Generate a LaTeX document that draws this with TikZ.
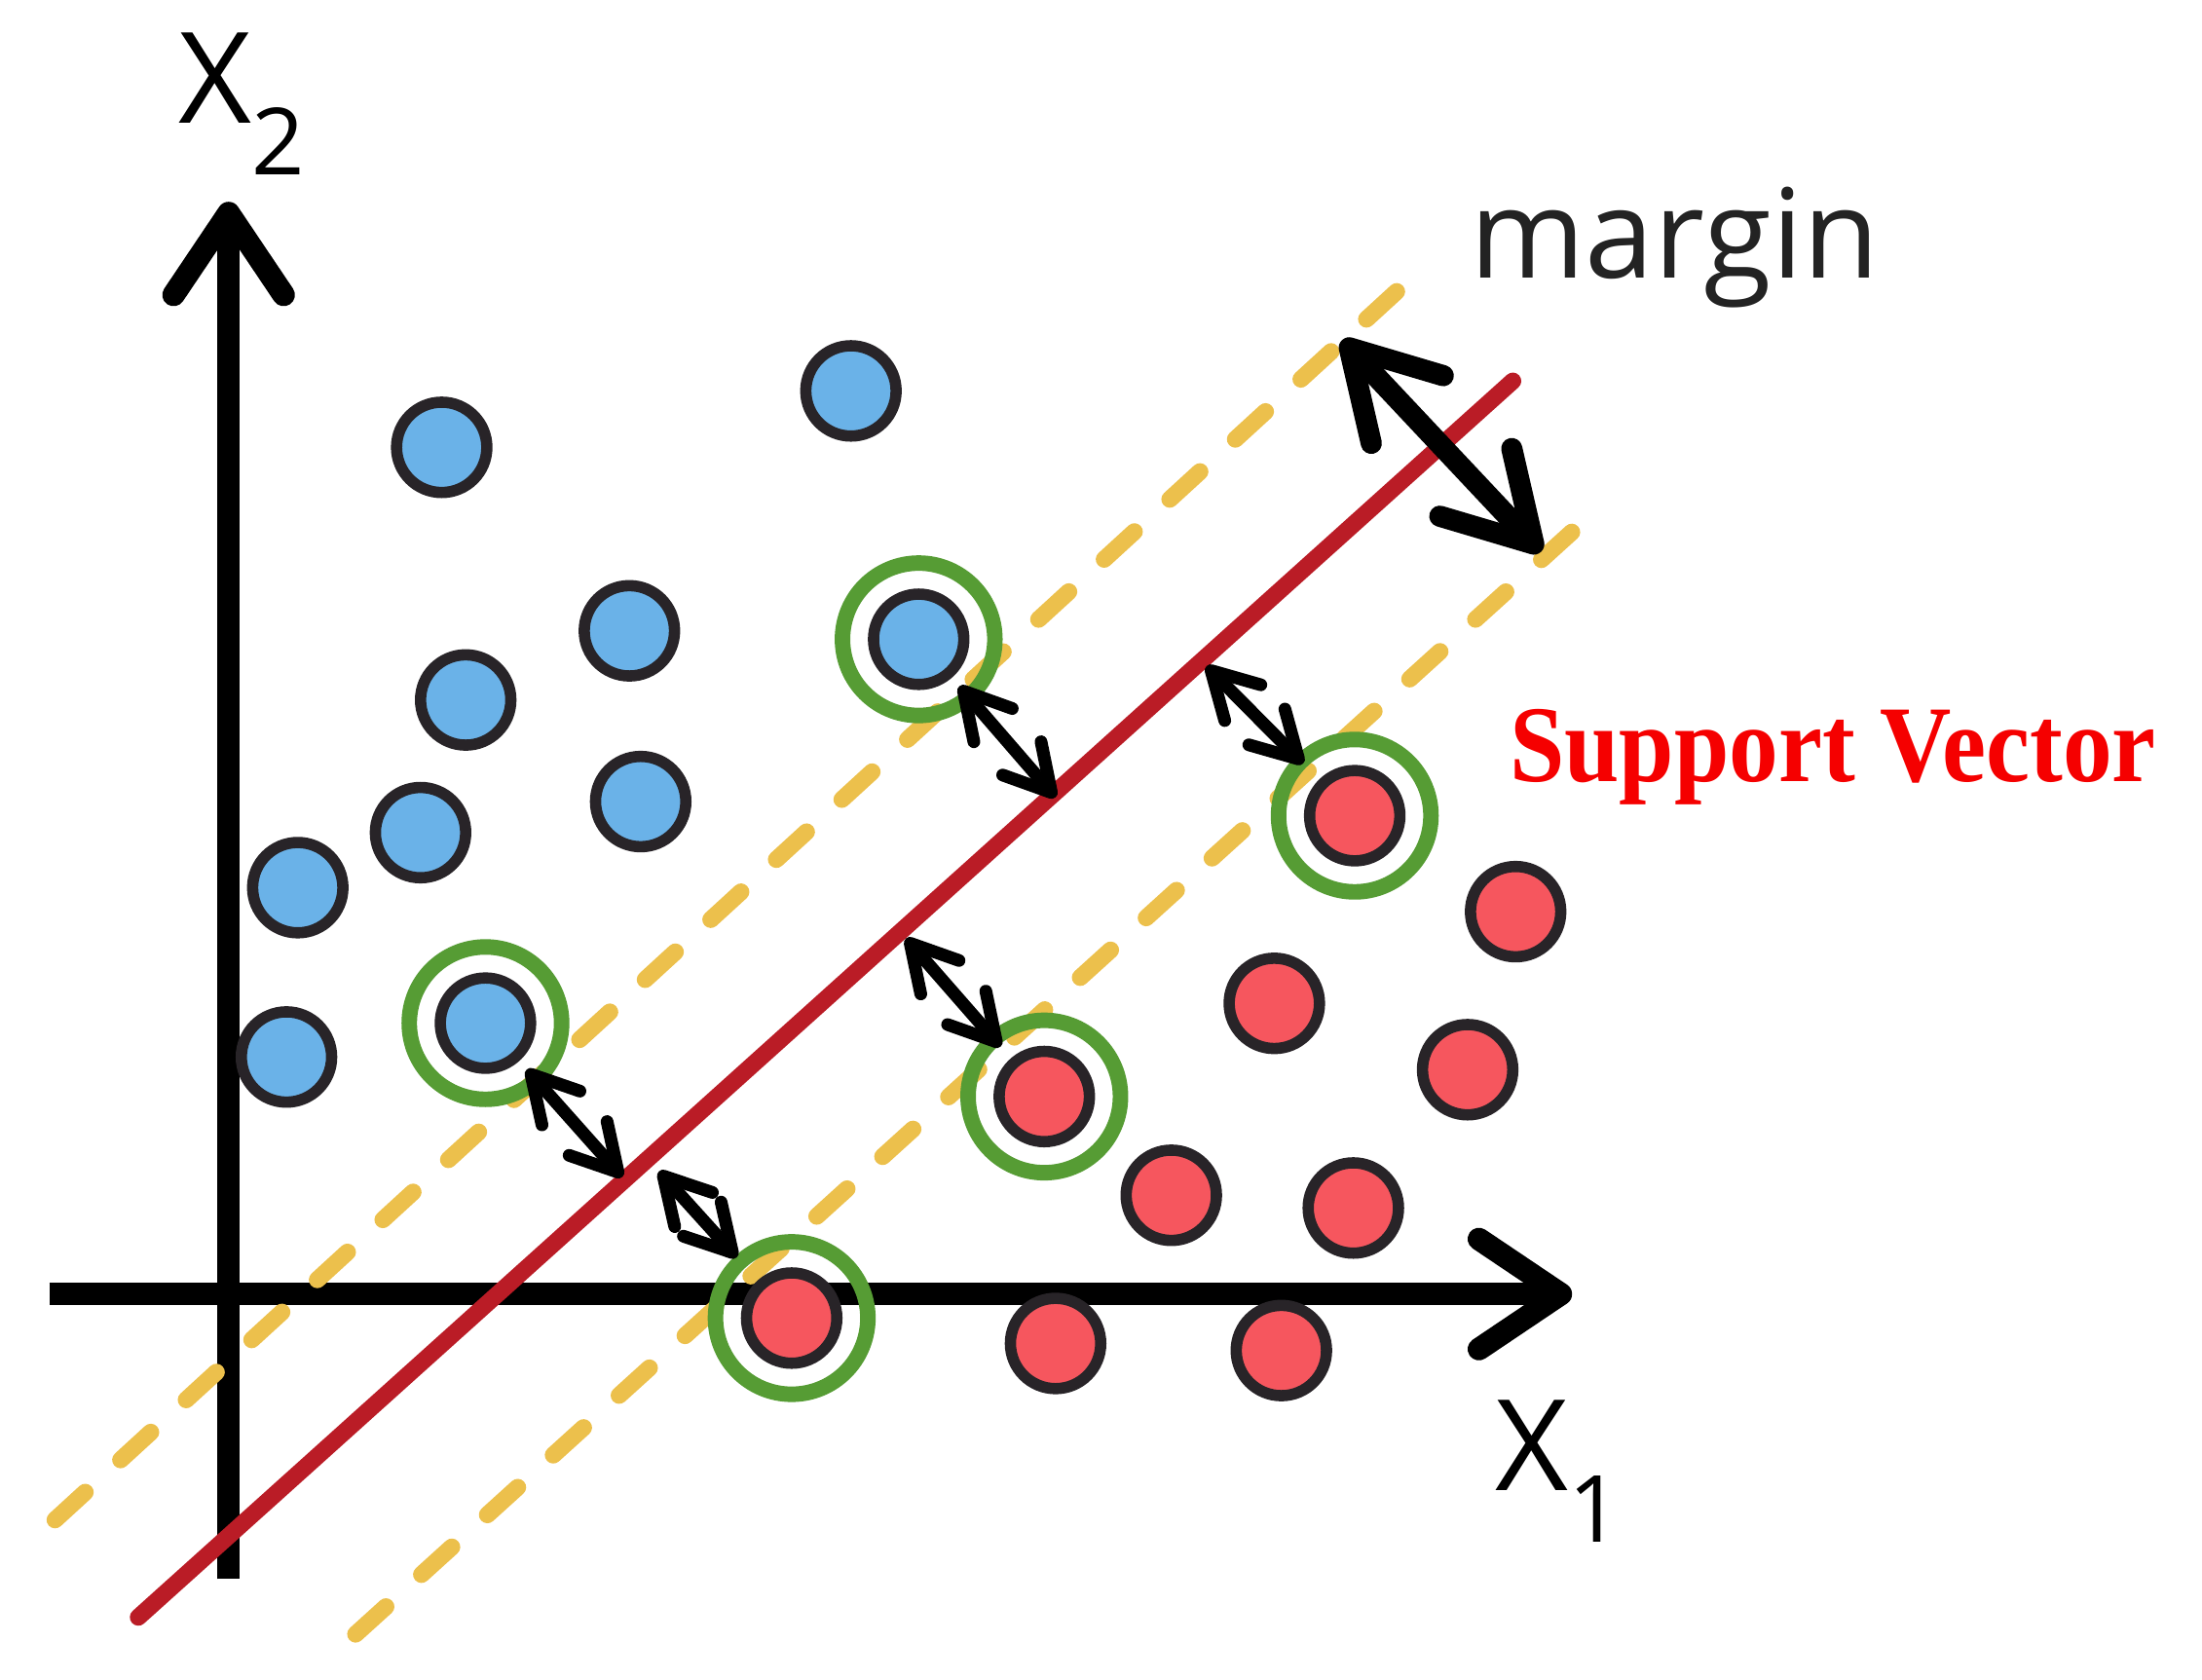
\documentclass[tikz,border=0pt]{standalone}
\usepackage{fontspec}
\usepackage{tikz}
\usetikzlibrary{arrows.meta}
\newfontfamily\axisfont{Open Sans}
\newfontfamily\svfont{Liberation Serif}
\definecolor{ptblue}{RGB}{106,178,232}
\definecolor{ptred}{RGB}{246,86,94}
\definecolor{ptedge}{RGB}{40,36,40}
\definecolor{svgreen}{RGB}{86,156,52}
\definecolor{margold}{RGB}{236,192,76}
\definecolor{hypred}{RGB}{186,28,38}
\definecolor{svtext}{RGB}{245,0,0}
\definecolor{txtgray}{RGB}{35,35,35}
\tikzstyle{sample}=[draw=ptedge,circle,line width=0.8mm,minimum size=6.4mm,inner sep=0pt]
\tikzstyle{c1}=[fill=ptblue]
\tikzstyle{c2}=[fill=ptred]
\tikzstyle{ring}=[draw=svgreen,circle,line width=1.1mm,minimum size=10.8mm,inner sep=0pt]
\tikzstyle{axis}=[line width=1.6mm,black,-{Straight Barb[round,length=5.8mm,width=7.8mm]}]
\tikzstyle{hyper}=[line width=1.2mm,hypred,line cap=round]
\tikzstyle{marg}=[line width=1.2mm,margold,line cap=round,dash pattern=on 2.9mm off 3.4mm]
\tikzstyle{gap}=[line width=0.9mm,black,{Straight Barb[round,length=3.2mm,width=3.6mm]}-{Straight Barb[round,length=3.2mm,width=3.6mm]}]
\tikzstyle{wide}=[line width=1.5mm,black,{Straight Barb[round,length=6mm,width=7mm]}-{Straight Barb[round,length=6mm,width=7mm]}]
\tikzstyle{legend}=[inner sep=0pt,anchor=base west]

\begin{document}
\begin{tikzpicture}[x=0.1mm,y=-0.1mm]
\useasboundingbox (0,0) rectangle (1560.4,1189.8);
	% axes
	\coordinate (xo) at (35,917);
	\coordinate (xe) at (1114,917);
	\coordinate (yo) at (162,1119);
	\coordinate (ye) at (162,143);
	\draw[axis] (xo) -- (xe);
	\draw[axis] (yo) -- (ye);
	\node[legend] (xlab) at (1059,1056) {\axisfont\fontsize{25.5}{30}\selectfont X\raisebox{-3.7mm}{\fontsize{18.7}{20}\selectfont 1}};
	\node[legend] (ylab) at (126,87) {\axisfont\fontsize{25.5}{30}\selectfont X\raisebox{-3.7mm}{\fontsize{18.7}{20}\selectfont 2}};

	% hyperplane and margins
	\coordinate (u1) at (39,1077);
	\coordinate (u2) at (998,199);
	\coordinate (l1) at (252,1158);
	\coordinate (l2) at (1126,366);
	\coordinate (h1) at (98,1146);
	\coordinate (h2) at (1072,270);
	\draw[marg] (u1) -- (u2);
	\draw[marg] (l1) -- (l2);
	\draw[hyper] (h1) -- (h2);

	\foreach \place/\name in {{(313,317)/b1}, {(603,277)/b2}, {(446,447)/b3},
	{(330,496)/b4}, {(298,590)/b5}, {(454,568)/b6}, {(211,629)/b7},
	{(203,749)/b8}, {(344,725)/b9}, {(651,453)/b10}}
    \node[sample,c1] (\name) at \place {};
	\foreach \place/\name in {{(561,934)/r1}, {(740,777)/r2}, {(960,578)/r3},
	{(1074,646)/r4}, {(903,711)/r5}, {(1040,758)/r6}, {(830,847)/r7},
	{(959,856)/r8}, {(748,952)/r9}, {(908,957)/r10}}
    \node[sample,c2] (\name) at \place {};
	\foreach \name in {b9,b10,r1,r2,r3}
    \node[ring] (ring\name) at (\name) {};

	% distances to the hyperplane
	\coordinate (p1) at (441,834);
	\coordinate (p2) at (467,830);
	\coordinate (p3) at (748,565);
	\coordinate (p4) at (642,665);
	\coordinate (p5) at (855,472);
	\draw[gap,shorten <=0.8mm] (b9) -- (p1);
	\draw[gap,shorten >=2.2mm] (p2) -- (r1);
	\draw[gap,shorten <=0.8mm] (b10) -- (p3);
	\draw[gap,shorten >=1.1mm] (p4) -- (r2);
	\draw[gap,shorten >=1.6mm] (p5) -- (r3);

	\coordinate (m1) at (951,241);
	\coordinate (m2) at (1092,391);
	\draw[wide] (m1) -- (m2);
	\node[legend,txtgray] (marglab) at (1041,197) {\axisfont\fontsize{25}{30}\selectfont margin};
	\node[legend,svtext] (svlab) at (1069,554) {\scalebox{0.905}[1]{\svfont\bfseries\fontsize{22}{26}\selectfont Support Vector}};
\end{tikzpicture}
\end{document}
